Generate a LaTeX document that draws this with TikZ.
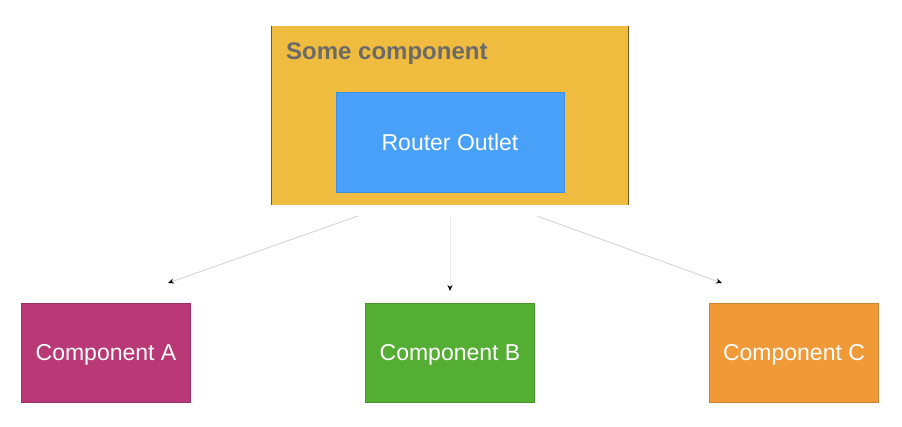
\documentclass[tikz,border=0pt]{standalone}
\usepackage{fontspec}
\setmainfont{Liberation Sans}
\usetikzlibrary{arrows.meta}
\definecolor{gold}{HTML}{EFBC3F}
\definecolor{goldedge}{HTML}{7A5A14}
\definecolor{outletblue}{HTML}{48A0F8}
\definecolor{magentaA}{HTML}{B93876}
\definecolor{greenB}{HTML}{55AE34}
\definecolor{orangeC}{HTML}{EF9A37}
\definecolor{titlegray}{HTML}{6B6A68}
\definecolor{faint}{HTML}{D4D4D4}
\tikzset{
  compbox/.style={draw=#1!85!black, line width=0.5pt, fill=#1, minimum width=169pt, minimum height=99pt, inner sep=0pt, anchor=north west},
  complabel/.style={text=white, font=\fontsize{23}{27}\selectfont, anchor=base},
  link/.style={draw=faint, line width=0.9pt, -{Stealth[length=6pt,width=5pt,black]}}
}
\begin{document}
\begin{tikzpicture}[x=1pt,y=-1pt]
\useasboundingbox (0,0) rectangle (902,427);
% outer component
\node[fill=gold, minimum width=357pt, minimum height=179pt, inner sep=0pt, anchor=north west] (outer) at (271,26) {};
\draw[goldedge, line width=0.8pt] (outer.north west) -- (outer.south west);
\draw[goldedge, line width=0.8pt] (outer.north east) -- (outer.south east);
\node[text=titlegray, font=\bfseries\fontsize{24}{28}\selectfont, anchor=base west, inner sep=0pt] (title) at (286,60) {Some component};
% router outlet
\node[fill=outletblue, draw=outletblue!90!black, line width=0.4pt, minimum width=228pt, minimum height=100pt, inner sep=0pt, anchor=north west] (outlet) at (336,92) {};
\node[complabel, inner sep=0pt] (outlettext) at (450,151) {Router Outlet};
% components
\node[compbox=magentaA] (compA) at (21,303) {};
\node[compbox=greenB] (compB) at (365,303) {};
\node[compbox=orangeC] (compC) at (709,303) {};
\node[complabel, inner sep=0pt] (textA) at (106,361) {Component A};
\node[complabel, inner sep=0pt] (textB) at (450,361) {Component B};
\node[complabel, inner sep=0pt] (textC) at (794,361) {Component C};
% connector ends
\coordinate (sA) at (358,216);
\coordinate (eA) at (168,283);
\coordinate (sB) at (450,216);
\coordinate (eB) at (450,291);
\coordinate (sC) at (537,216);
\coordinate (eC) at (722,283);
\draw[link] (sA) -- (eA);
\draw[link, draw=faint!50] (sB) -- (eB);
\draw[link] (sC) -- (eC);
\end{tikzpicture}
\end{document}
